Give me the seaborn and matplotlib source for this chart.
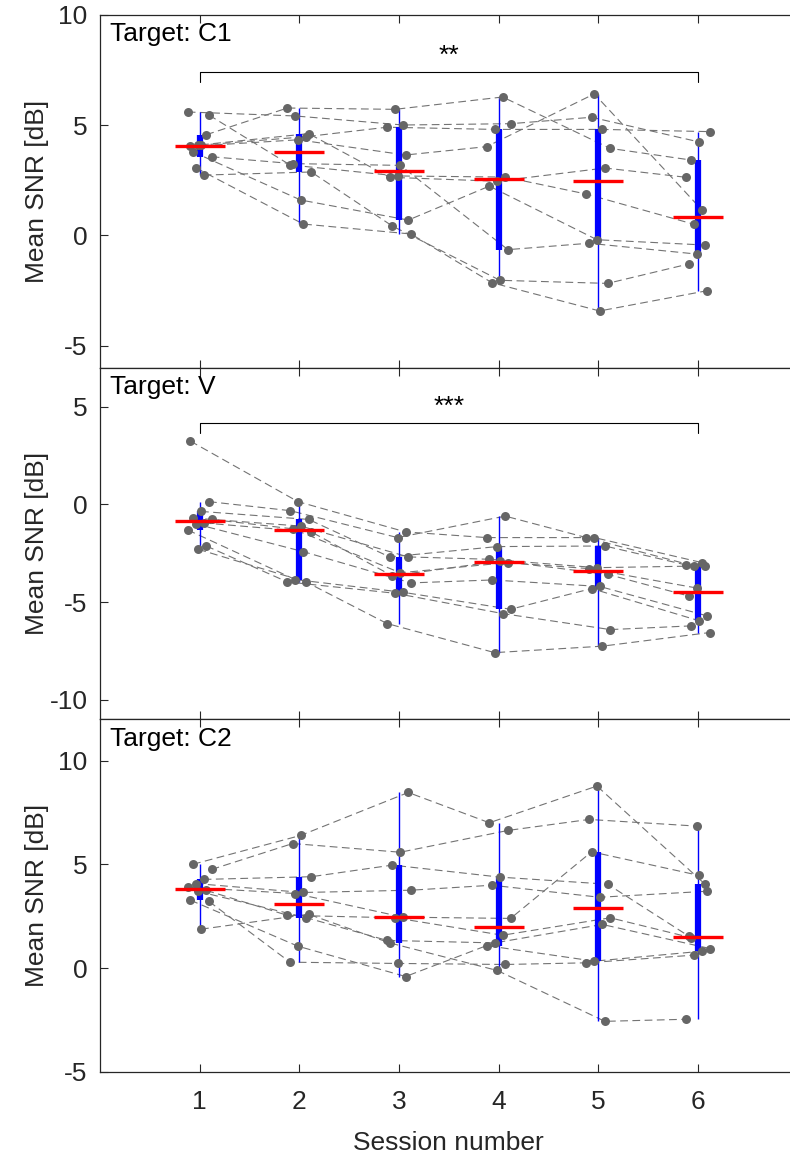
import numpy as np
import pandas as pd
import matplotlib
matplotlib.use("Agg")
import matplotlib.pyplot as plt
import seaborn as sns

# ---------------- data ----------------
SESSIONS = [1, 2, 3, 4, 5, 6]
PARTICIPANTS = ["P1", "P2", "P3", "P4", "P5", "P6", "P7", "P8", "P9", "P10"]
TARGETS = ["C1", "V", "C2"]

# mean SNR [dB] per participant (rows) and session (columns)
snr_c1 = [
    [5.59, 5.41, 5.00, 5.06, 5.35, 4.23],
    [4.56, 5.77, 5.71, 6.27, 3.94, 3.41],
    [4.08, 4.47, 4.90, 4.80, 4.80, 4.70],
    [4.03, 4.33, 3.64, 4.02, 6.41, 1.15],
    [5.45, 3.19, 2.69, 2.64, 1.87, 0.50],
    [4.10, 4.61, 2.63, 2.45, 3.05, 2.63],
    [3.78, 1.60, 0.69, 2.23, -0.20, -0.44],
    [3.56, 3.25, 3.17, -0.65, -0.36, -0.85],
    [2.73, 2.87, 0.42, -2.04, -2.18, -1.30],
    [3.06, 0.51, 0.06, -2.15, -3.43, -2.51],
]
snr_v = [
    [3.24, 0.14, -1.41, -1.70, -1.70, -2.98],
    [0.14, -0.32, -1.70, -0.60, -1.70, -3.15],
    [-0.36, -0.77, -2.69, -2.16, -2.13, -3.10],
    [-0.70, -1.11, -2.69, -2.81, -3.24, -3.15],
    [-0.77, -1.25, -3.50, -2.98, -3.29, -4.28],
    [-0.95, -1.41, -3.66, -2.90, -3.58, -4.69],
    [-1.00, -2.42, -4.02, -3.87, -4.20, -5.71],
    [-1.31, -3.85, -4.50, -5.37, -4.31, -5.96],
    [-2.13, -3.97, -4.55, -5.59, -6.41, -6.22],
    [-2.30, -3.97, -6.10, -7.59, -7.26, -6.56],
]
snr_c2 = [
    [5.01, 6.40, 8.47, 7.01, 8.78, 4.07],
    [4.76, 6.01, 5.59, 6.64, 7.17, 6.85],
    [4.28, 4.41, 4.97, 4.39, 4.05, 1.55],
    [4.08, 3.65, 3.76, 4.00, 3.42, 3.71],
    [3.90, 3.60, 2.46, 2.40, 5.61, 4.47],
    [3.75, 2.55, 2.43, 1.59, 2.43, 1.47],
    [3.70, 2.44, 1.34, 1.22, 2.11, 0.95],
    [3.28, 1.06, -0.40, 1.09, 0.34, 0.82],
    [3.22, 0.29, 0.23, 0.18, 0.26, 0.63],
    [1.88, 2.60, 1.22, -0.11, -2.56, -2.46],
]
panel_values = [snr_c1, snr_v, snr_c2]

y_limits = [(-6, 10), (-11, 7), (-5, 12)]
y_ticks = [[-5, 0, 5, 10], [-10, -5, 0, 5], [-5, 0, 5, 10]]
x_ticks = SESSIONS

# significance (session a, session b, label) per panel
significance = [(1, 6, "**"), (1, 6, "***"), None]
sig_levels = [7.42, 4.15, None]

# ---------------- style ----------------
sns.set_theme(style="white")
plt.rcParams["font.family"] = ["Liberation Sans", "DejaVu Sans"]
plt.rcParams["axes.unicode_minus"] = False

FS = 19
DARK = "#262626"
POINT = "#666666"
LINE = "#737373"

fig = plt.figure(figsize=(7.9, 11.58), dpi=100)
left, width = 0.1266, 0.883
rects = [
    [left, 0.6825, width, 0.3048],
    [left, 0.3789, width, 0.3036],
    [left, 0.0743, width, 0.3046],
]

jit_base = np.linspace(-0.12, 0.12, len(PARTICIPANTS))

for k, (target, vals, rect) in enumerate(zip(TARGETS, panel_values, rects)):
    ax = fig.add_axes(rect)
    arr = np.array(vals)
    rows = []
    for i, p in enumerate(PARTICIPANTS):
        for j, s in enumerate(SESSIONS):
            jit = jit_base[(i * 7 + j * 3 + k) % len(PARTICIPANTS)]
            rows.append({"participant": p, "session": s, "x": s + jit, "snr": arr[i, j]})
    df = pd.DataFrame(rows)

    sns.lineplot(data=df, x="x", y="snr", units="participant", estimator=None,
                 sort=False, color=LINE, lw=0.8, linestyle=(0, (7, 4)),
                 ax=ax, legend=False, zorder=1)

    for j, s in enumerate(SESSIONS):
        v = arr[:, j]
        q1, med, q3 = np.percentile(v, [25, 50, 75], method="hazen")
        iqr = q3 - q1
        lo = v[v >= q1 - 1.5 * iqr].min()
        hi = v[v <= q3 + 1.5 * iqr].max()
        ax.vlines(s, lo, hi, color="blue", lw=1.0, zorder=2, capstyle="butt")
        ax.vlines(s, q1, q3, color="blue", lw=4.5, zorder=3, capstyle="butt")
        ax.hlines(med, s - 0.25, s + 0.25, color="red", lw=2.4, zorder=6)

    sns.scatterplot(data=df, x="x", y="snr", color=POINT, s=42, linewidth=0,
                    ax=ax, legend=False, zorder=4)

    sig = significance[k]
    if sig is not None:
        a, b, lab = sig
        yb = sig_levels[k]
        span = y_limits[k][1] - y_limits[k][0]
        drop = 0.028 * span
        ax.plot([a, a, b, b], [yb - drop, yb, yb, yb - drop], color="black", lw=0.8, zorder=5)
        ax.text((a + b) / 2, yb + 0.012 * span, lab, ha="center", va="bottom",
                fontsize=FS, color="black")

    ax.set_xlim(0, 7)
    ax.set_ylim(*y_limits[k])
    ax.set_xticks(x_ticks)
    ax.set_yticks(y_ticks[k])
    ax.set_xlabel("")
    ax.set_ylabel("Mean SNR [dB]", fontsize=FS, color=DARK)
    ax.yaxis.set_label_coords(-0.073, 0.5)
    ax.tick_params(axis="both", direction="in", length=6, width=0.8, color=DARK,
                   labelsize=FS, labelcolor=DARK, top=True, bottom=True,
                   left=True, right=True)
    ax.tick_params(axis="y", pad=9)
    ax.tick_params(axis="x", pad=13)
    for sp in ax.spines.values():
        sp.set_visible(True)
        sp.set_color(DARK)
        sp.set_linewidth(0.9)
    ax.text(0.014, 0.978, f"Target: {target}", transform=ax.transAxes,
            ha="left", va="top", fontsize=FS, color="black")
    if k < 2:
        ax.tick_params(axis="x", labelbottom=False)
    else:
        ax.set_xlabel("Session number", fontsize=FS, color=DARK, labelpad=12)

fig.savefig("out.png", dpi=100)
